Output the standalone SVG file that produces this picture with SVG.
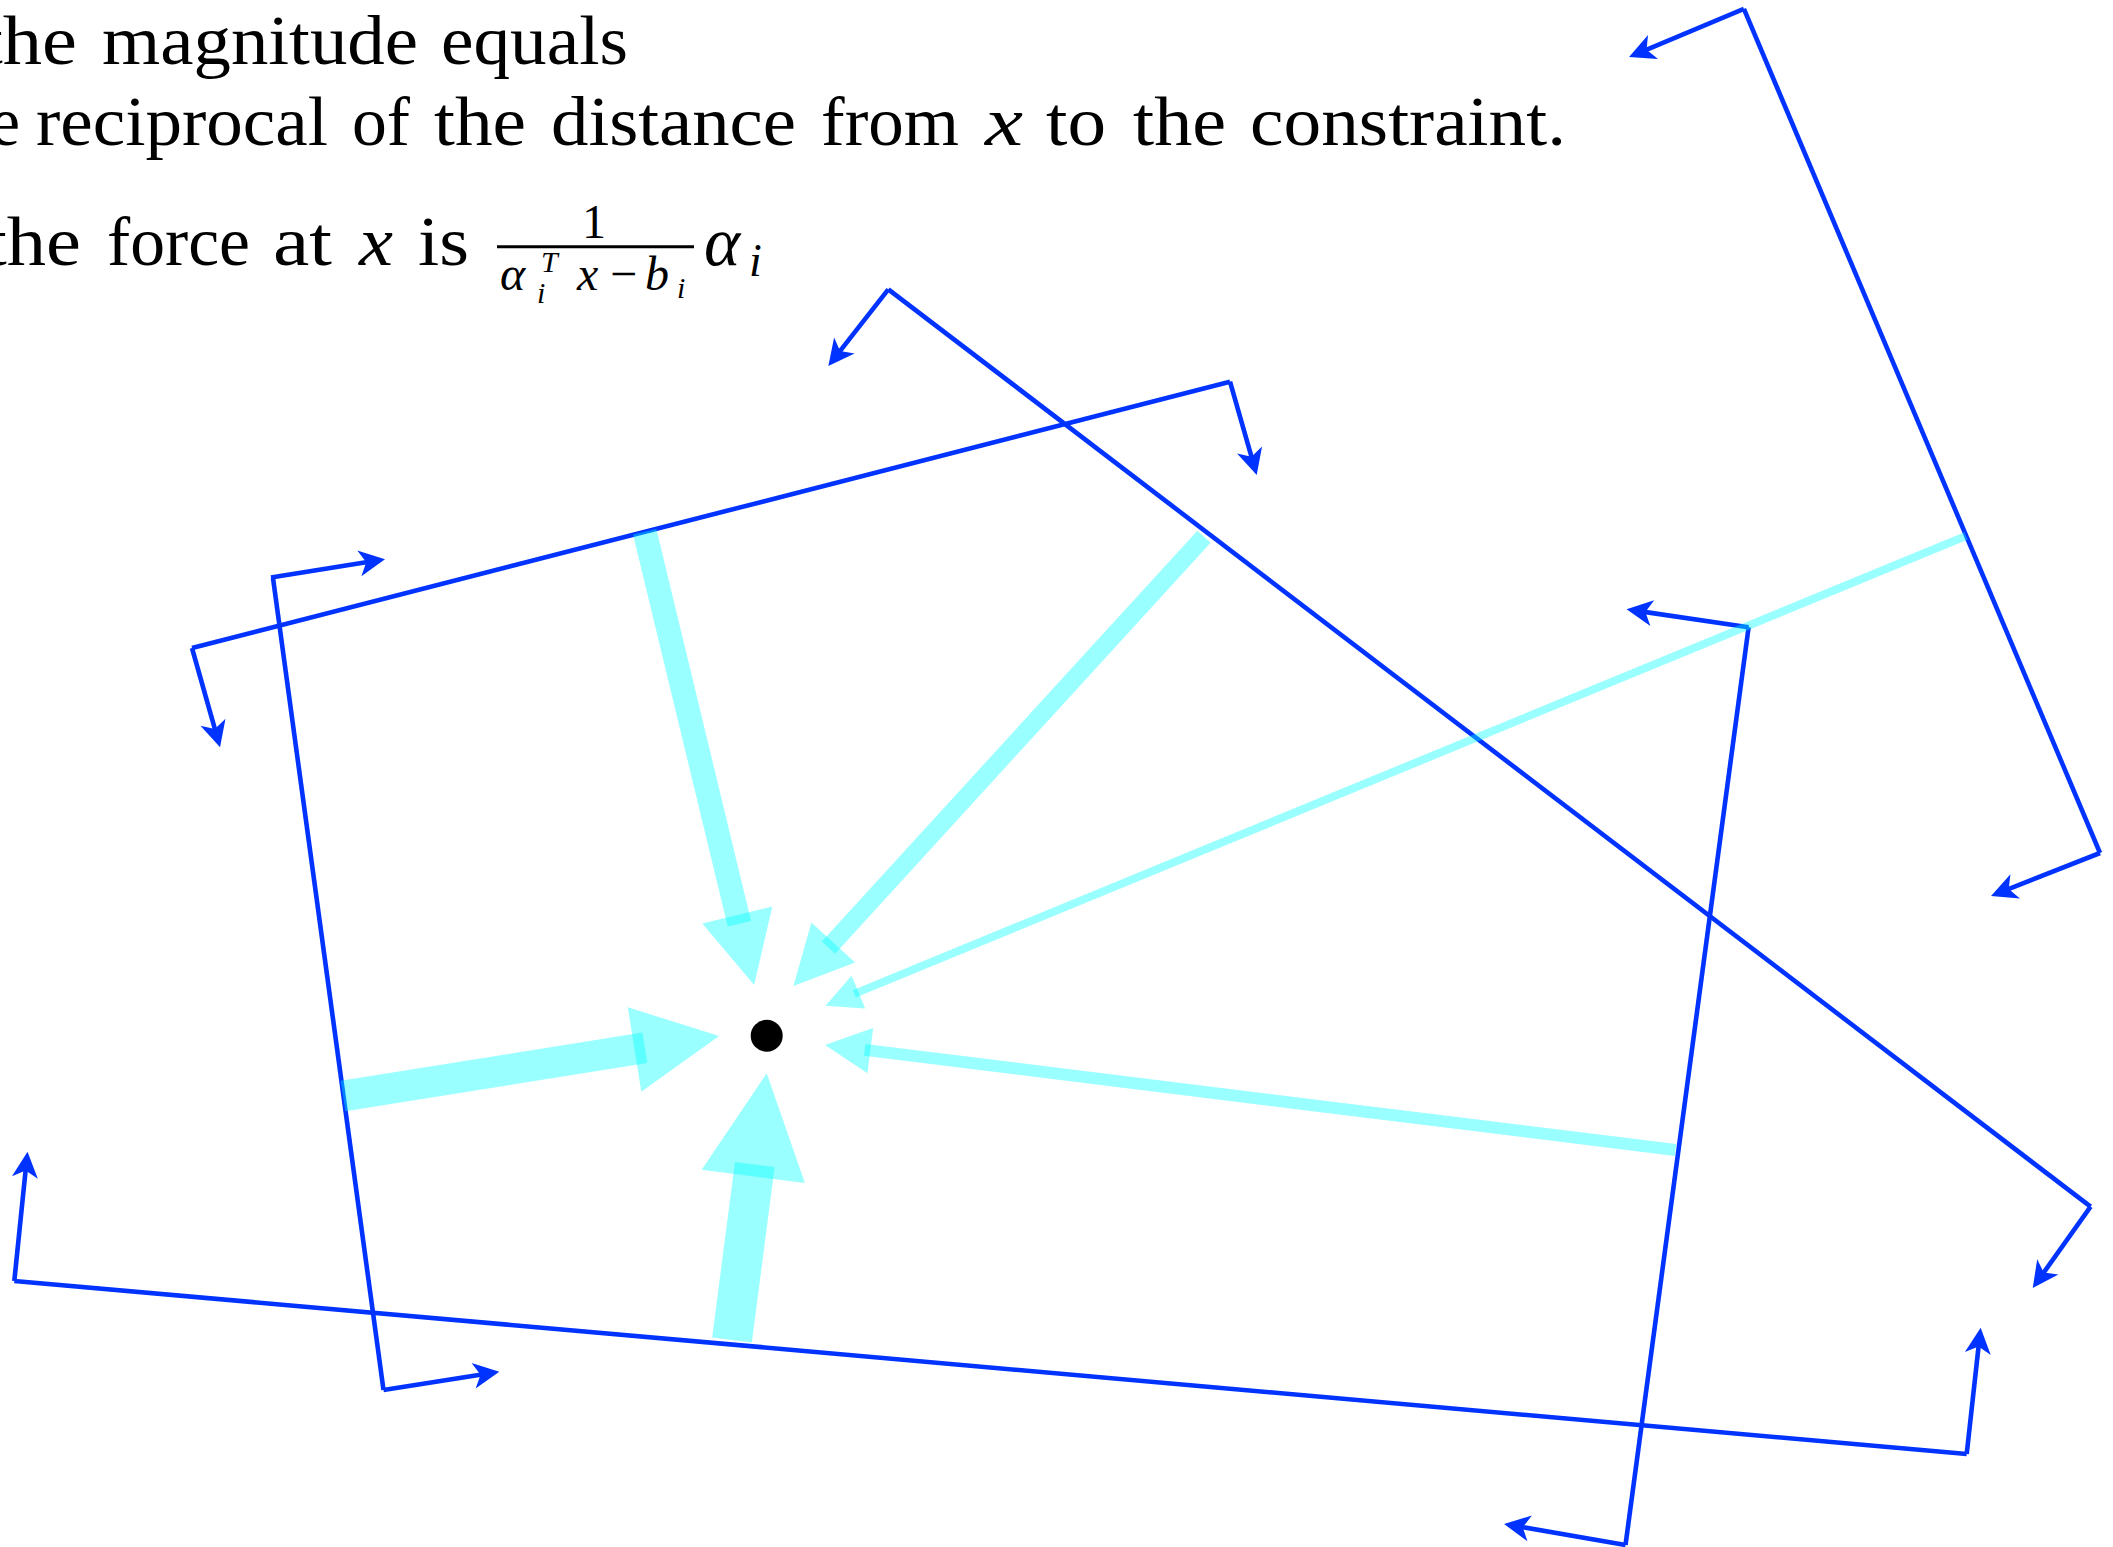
<svg xmlns="http://www.w3.org/2000/svg" width="2113" height="1547" viewBox="0 0 2113 1547">
<style>
.t{font-family:"Liberation Serif","Times New Roman",serif;font-size:69px;fill:#000}
.m{font-family:"Liberation Serif","Times New Roman",serif;font-style:italic;fill:#000}
.c{stroke:#0033ff;stroke-width:4.6;fill:none}
.n{stroke:#0033ff;stroke-width:4.6;fill:none;marker-end:url(#ah)}
.sh{stroke:#00ffff;stroke-opacity:0.4;fill:none;stroke-linecap:butt}
.hd{fill:#00ffff;fill-opacity:0.4;stroke:none}
</style>
<defs>
<marker id="ah" markerUnits="userSpaceOnUse" viewBox="-12 -15 32 30" markerWidth="32" markerHeight="30" refX="0" refY="0" orient="auto">
<path d="M16,0 L-10,-13 L-3,0 L-10,13 Z" fill="#0033ff"/>
</marker>
</defs>
<rect width="2113" height="1547" fill="#fff"/>
<g id="text">
<text class="t" y="63.5"><tspan x="-19" textLength="96" lengthAdjust="spacingAndGlyphs">the</tspan> <tspan x="102" textLength="316" lengthAdjust="spacingAndGlyphs">magnitude</tspan> <tspan x="441" textLength="187" lengthAdjust="spacingAndGlyphs">equals</tspan></text>
<text class="t" y="145"><tspan x="-10" textLength="30" lengthAdjust="spacingAndGlyphs">e</tspan> <tspan x="36" textLength="292" lengthAdjust="spacingAndGlyphs">reciprocal</tspan> <tspan x="352" textLength="58" lengthAdjust="spacingAndGlyphs">of</tspan> <tspan x="434" textLength="92" lengthAdjust="spacingAndGlyphs">the</tspan> <tspan x="551" textLength="245" lengthAdjust="spacingAndGlyphs">distance</tspan> <tspan x="821" textLength="138" lengthAdjust="spacingAndGlyphs">from</tspan> <tspan x="985" class="m" textLength="38" lengthAdjust="spacingAndGlyphs">x</tspan> <tspan x="1046" textLength="60" lengthAdjust="spacingAndGlyphs">to</tspan> <tspan x="1133" textLength="93" lengthAdjust="spacingAndGlyphs">the</tspan> <tspan x="1250" textLength="316" lengthAdjust="spacingAndGlyphs">constraint.</tspan></text>
<text class="t" y="265"><tspan x="-15" textLength="96" lengthAdjust="spacingAndGlyphs">the</tspan> <tspan x="107" textLength="143" lengthAdjust="spacingAndGlyphs">force</tspan> <tspan x="273" textLength="59" lengthAdjust="spacingAndGlyphs">at</tspan> <tspan x="359" class="m" textLength="34" lengthAdjust="spacingAndGlyphs">x</tspan> <tspan x="418" textLength="51" lengthAdjust="spacingAndGlyphs">is</tspan></text>
<text class="t" x="582" y="238" style="font-size:48px">1</text>
<line x1="497" y1="246.7" x2="694" y2="246.7" stroke="#000" stroke-width="3"/>
<text class="m" x="500" y="290" font-size="48">α</text>
<text class="m" x="541" y="272" font-size="30">T</text>
<text class="m" x="537" y="303" font-size="30">i</text>
<text class="m" x="577" y="290" font-size="48">x</text>
<text class="t" x="610" y="290" style="font-size:48px">−</text>
<text class="m" x="645" y="290" font-size="48">b</text>
<text class="m" x="677" y="298" font-size="30">i</text>
<text class="m" x="704" y="265" font-size="69">α</text>
<text class="m" x="749" y="276" font-size="46">i</text>
</g>
<g id="constraints">
<g id="constraint-a">
<line class="c" x1="192" y1="648" x2="1230" y2="381.7"/>
<line class="n" x1="192" y1="648" x2="215.7" y2="731.9"/>
<line class="n" x1="1230" y1="381.7" x2="1252.3" y2="459.6"/>
</g>
<g id="constraint-b">
<line class="c" x1="888.3" y1="289.3" x2="2090.6" y2="1206.7"/>
<line class="n" x1="888.3" y1="289.3" x2="838.2" y2="353.4"/>
<line class="n" x1="2090.6" y1="1206.7" x2="2042" y2="1275"/>
</g>
<g id="constraint-c">
<line class="c" x1="1743.9" y1="8.9" x2="2100" y2="853"/>
<line class="n" x1="1743.9" y1="8.9" x2="1643.8" y2="50.8"/>
<line class="n" x1="2100" y1="853" x2="2005.9" y2="890.1"/>
</g>
<g id="constraint-d">
<line class="c" x1="1748.6" y1="627.3" x2="1625.5" y2="1545"/>
<line class="n" x1="1748.6" y1="627.3" x2="1642.4" y2="611.6"/>
<line class="n" x1="1625.5" y1="1545" x2="1519.8" y2="1526.7"/>
</g>
<g id="constraint-e">
<line class="c" x1="14.3" y1="1281" x2="1966.7" y2="1454"/>
<line class="n" x1="14.3" y1="1281" x2="25.9" y2="1167.6"/>
<line class="n" x1="1966.7" y1="1454" x2="1978.9" y2="1343.6"/>
</g>
<g id="constraint-f">
<line class="c" x1="273" y1="578" x2="383.5" y2="1390"/>
<line class="n" x1="271" y1="577.5" x2="369.2" y2="561.8"/>
<line class="n" x1="383.5" y1="1390" x2="483.5" y2="1374.2"/>
</g>
</g>
<g id="forces">
<g id="force-1"><line class="sh" stroke-width="24" x1="644.7" y1="531.7" x2="739.4" y2="923.8"/><polygon class="hd" points="754.2,985 702.3,923.5 772.3,906.5"/></g>
<g id="force-2"><line class="sh" stroke-width="18" x1="1204" y1="536.7" x2="828.5" y2="947.6"/><polygon class="hd" points="793.4,986 855,962.4 811.4,922.6"/></g>
<g id="force-3"><line class="sh" stroke-width="8" x1="1966" y1="536" x2="854.2" y2="993.9"/><polygon class="hd" points="825.5,1005.7 851.6,975.7 865.2,1008.6"/></g>
<g id="force-4"><line class="sh" stroke-width="12" x1="1675.5" y1="1150" x2="864.7" y2="1049.9"/><polygon class="hd" points="825,1045 873.1,1028 867.5,1073.2"/></g>
<g id="force-5"><line class="sh" stroke-width="40" x1="732" y1="1340" x2="754.8" y2="1164.5"/><polygon class="hd" points="766.7,1073.3 804.9,1183.1 701.7,1169.7"/></g>
<g id="force-6"><line class="sh" stroke-width="31" x1="343" y1="1096" x2="644.9" y2="1047.8"/><polygon class="hd" points="719,1036 641.3,1091.8 627.8,1007.2"/></g>
</g>
<g id="point-x"><circle cx="766.7" cy="1035.7" r="16" fill="#000"/></g>
</svg>
